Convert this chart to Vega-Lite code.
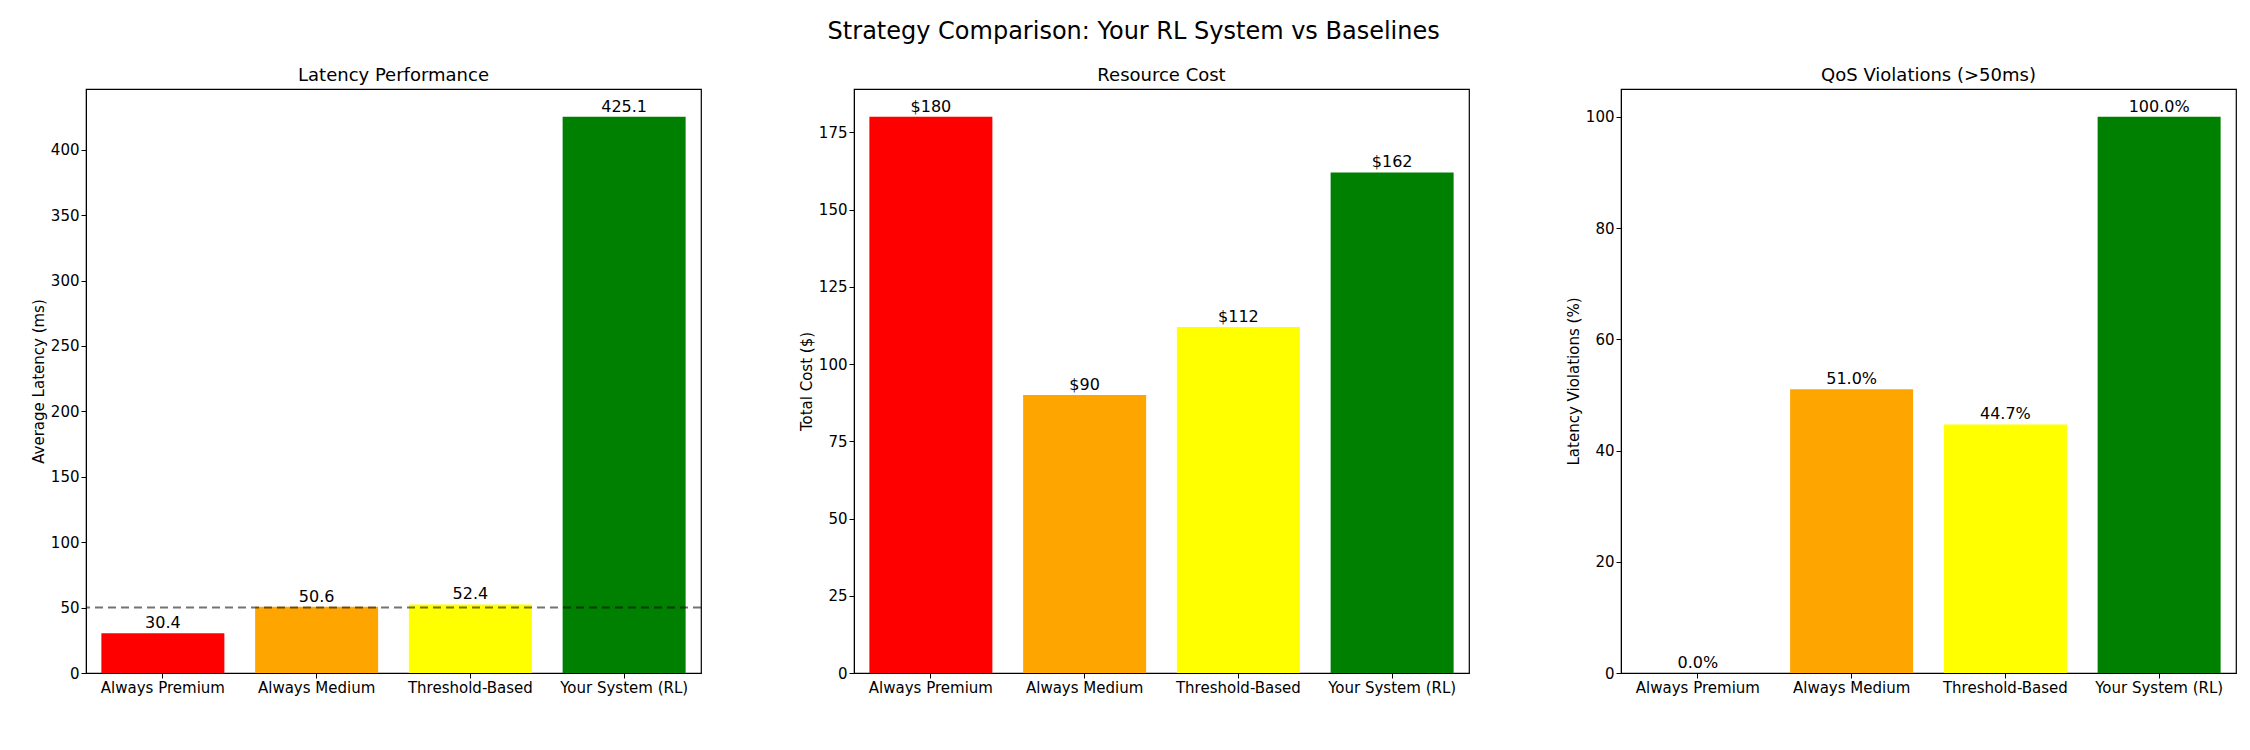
{
"$schema":"https://vega.github.io/schema/vega-lite/v6.json",
"background":"white",
"padding":{"left":30,"top":20,"right":10,"bottom":5},
"title":{"text":"Strategy Comparison: Your RL System vs Baselines","fontSize":24,"font":"DejaVu Sans","fontWeight":"normal","offset":22,"anchor":"middle"},
"config":{"font":"DejaVu Sans","view":{"stroke":"black","strokeWidth":1.2},
"axis":{"grid":false,"labelFont":"DejaVu Sans","titleFont":"DejaVu Sans","labelFontSize":15,"titleFontSize":15,"titleFontWeight":"normal","domainColor":"black","tickColor":"black","labelColor":"black","titleColor":"black"},
"title":{"fontSize":18,"fontWeight":"normal","font":"DejaVu Sans"}},
"datasets":{
"lat":[{"s":"Always Premium","v":30.4,"l":"30.4","c":"red"},{"s":"Always Medium","v":50.6,"l":"50.6","c":"orange"},{"s":"Threshold-Based","v":52.4,"l":"52.4","c":"yellow"},{"s":"Your System (RL)","v":425.1,"l":"425.1","c":"green"}],
"cost":[{"s":"Always Premium","v":180,"l":"$180","c":"red"},{"s":"Always Medium","v":90,"l":"$90","c":"orange"},{"s":"Threshold-Based","v":112,"l":"$112","c":"yellow"},{"s":"Your System (RL)","v":162,"l":"$162","c":"green"}],
"qos":[{"s":"Always Premium","v":0,"l":"0.0%","c":"red"},{"s":"Always Medium","v":51.0,"l":"51.0%","c":"orange"},{"s":"Threshold-Based","v":44.7,"l":"44.7%","c":"yellow"},{"s":"Your System (RL)","v":100,"l":"100.0%","c":"green"}],
"thr":[{"y":50}]
},
"spacing":95,
"hconcat":[
{"title":"Latency Performance","width":615,"height":584,
"layer":[
{"data":{"name":"lat"},"mark":{"type":"bar"},"encoding":{
"x":{"field":"s","type":"nominal","sort":null,"scale":{"paddingInner":0.2,"paddingOuter":0.1},"axis":{"title":null,"labelAngle":0,"labelOverlap":false}},
"y":{"field":"v","type":"quantitative","scale":{"domain":[0,446.4],"nice":false},"axis":{"title":"Average Latency (ms)","values":[0,50,100,150,200,250,300,350,400]}},
"color":{"field":"c","type":"nominal","scale":null}}},
{"data":{"name":"lat"},"mark":{"type":"text","dy":-10,"fontSize":16,"color":"black"},"encoding":{
"x":{"field":"s","type":"nominal","sort":null},"y":{"field":"v","type":"quantitative"},"text":{"field":"l"}}},
{"data":{"name":"thr"},"mark":{"type":"rule","color":"black","opacity":0.55,"strokeDash":[8,5],"strokeWidth":2},"encoding":{"y":{"field":"y","type":"quantitative"}}}
]},
{"title":"Resource Cost","width":615,"height":584,
"layer":[
{"data":{"name":"cost"},"mark":{"type":"bar"},"encoding":{
"x":{"field":"s","type":"nominal","sort":null,"scale":{"paddingInner":0.2,"paddingOuter":0.1},"axis":{"title":null,"labelAngle":0,"labelOverlap":false}},
"y":{"field":"v","type":"quantitative","scale":{"domain":[0,189],"nice":false},"axis":{"title":"Total Cost ($)","values":[0,25,50,75,100,125,150,175]}},
"color":{"field":"c","type":"nominal","scale":null}}},
{"data":{"name":"cost"},"mark":{"type":"text","dy":-10,"fontSize":16,"color":"black"},"encoding":{
"x":{"field":"s","type":"nominal","sort":null},"y":{"field":"v","type":"quantitative"},"text":{"field":"l"}}}
]},
{"title":"QoS Violations (>50ms)","width":615,"height":584,
"layer":[
{"data":{"name":"qos"},"mark":{"type":"bar"},"encoding":{
"x":{"field":"s","type":"nominal","sort":null,"scale":{"paddingInner":0.2,"paddingOuter":0.1},"axis":{"title":null,"labelAngle":0,"labelOverlap":false}},
"y":{"field":"v","type":"quantitative","scale":{"domain":[0,105],"nice":false},"axis":{"title":"Latency Violations (%)","values":[0,20,40,60,80,100]}},
"color":{"field":"c","type":"nominal","scale":null}}},
{"data":{"name":"qos"},"mark":{"type":"text","dy":-10,"fontSize":16,"color":"black"},"encoding":{
"x":{"field":"s","type":"nominal","sort":null},"y":{"field":"v","type":"quantitative"},"text":{"field":"l"}}}
]}
]
}
